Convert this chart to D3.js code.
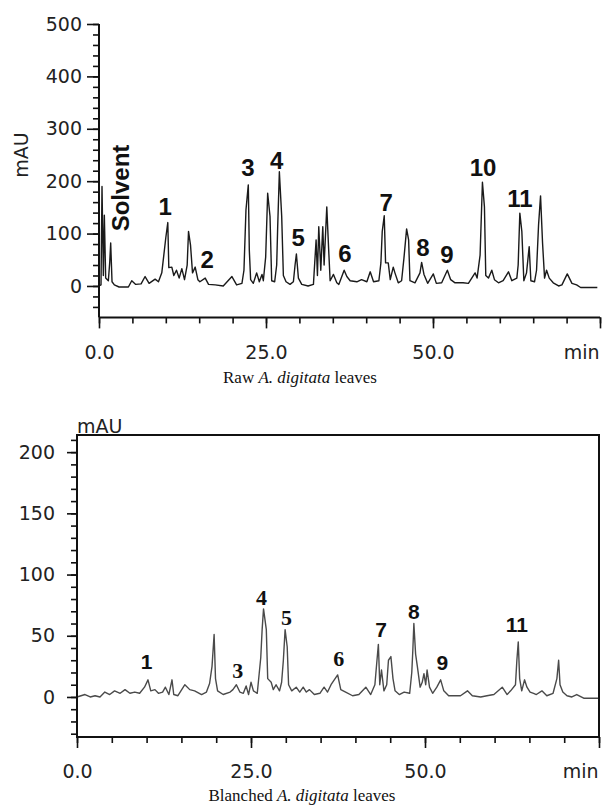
<!DOCTYPE html>
<html>
<head>
<meta charset="utf-8">
<script src="https://cdn.jsdelivr.net/npm/d3@7"></script>
<style>
  body { margin: 0; background: #fff; }
  svg { display: block; }
  .tick text { font-family: "DejaVu Sans", sans-serif; font-size: 19px; fill: #222; }
  .tick line { stroke: #111; stroke-width: 1.6; }
</style>
</head>
<body>
<svg id="chart" width="602" height="809"></svg>
<script>
// raw leaves chromatogram, [time (min), absorbance (mAU)]
var rawTrace = [
  [0.0, 0], [0.3, 2], [0.45, 190], [0.65, 20], [0.8, 135], [1.0, 15], [1.4, 10], [1.6, 44],
  [1.75, 82], [1.95, 8], [2.3, 2], [3.0, -2], [4.4, -2], [4.9, 10], [5.5, 3], [6.3, 4],
  [6.9, 18], [7.5, 5], [8.4, 13], [8.9, 8], [9.4, 25], [10.0, 92], [10.3, 121], [10.45, 35],
  [10.9, 36], [11.2, 20], [11.6, 30], [12.0, 15], [12.4, 33], [12.8, 12], [13.2, 40], [13.4, 104],
  [13.7, 78], [14.0, 25], [14.4, 36], [14.8, 12], [15.1, 8], [15.9, 15], [16.4, 3], [17.4, 2],
  [18.6, 0], [19.9, 18], [20.6, 2], [21.4, 5], [21.7, 30], [22.0, 145], [22.35, 193], [22.5, 69],
  [22.7, 12], [23.1, 5], [23.6, 25], [24.0, 8], [24.4, 22], [24.6, 10], [24.95, 55], [25.25, 177],
  [25.6, 133], [25.85, 10], [26.3, 8], [26.6, 40], [26.75, 113], [27.0, 218], [27.35, 133], [27.6, 20],
  [28.0, 8], [28.6, 3], [29.1, 8], [29.35, 40], [29.55, 61], [29.85, 15], [30.35, 3], [31.3, 0],
  [32.1, 3], [32.5, 88], [32.7, 20], [32.9, 113], [33.2, 30], [33.5, 113], [33.7, 40], [34.1, 151],
  [34.35, 78], [34.6, 10], [35.1, 22], [35.6, 6], [35.9, 3], [36.7, 30], [37.1, 18], [37.6, 10],
  [38.6, 8], [39.3, 12], [40.1, 8], [40.6, 27], [41.1, 8], [41.9, 10], [42.2, 44], [42.4, 104],
  [42.7, 134], [42.9, 44], [43.3, 44], [43.6, 12], [44.05, 36], [44.3, 25], [44.8, 6], [45.3, 10],
  [45.65, 53], [46.05, 109], [46.35, 88], [46.55, 10], [47.3, 6], [48.05, 25], [48.3, 45], [48.65, 22],
  [49.2, 5], [50.05, 23], [50.5, 5], [51.3, 6], [52.15, 30], [52.65, 12], [53.3, 6], [54.5, 6],
  [55.3, 5], [56.3, 25], [56.6, 15], [57.05, 59], [57.4, 198], [57.7, 151], [57.9, 20], [58.3, 15],
  [58.8, 30], [59.2, 12], [59.8, 6], [60.5, 10], [61.3, 27], [61.8, 10], [62.55, 15], [62.75, 40],
  [63.0, 139], [63.3, 104], [63.6, 10], [64.0, 25], [64.4, 75], [64.65, 10], [65.2, 8], [65.5, 30],
  [65.8, 116], [66.1, 172], [66.4, 82], [66.7, 15], [67.0, 30], [67.4, 15], [68.0, 6], [68.8, 0],
  [69.3, 2], [70.1, 23], [70.8, 5], [71.5, 2], [72.1, -3], [74.6, -3]
];

// blanched leaves chromatogram
var blanchedTrace = [
  [0.0, 0], [1.15, 2], [1.9, 0], [2.6, 1], [3.3, 0], [4.0, 4], [4.7, 2], [5.4, 5],
  [6.2, 3], [6.9, 6], [7.6, 3], [8.3, 4], [9.0, 3], [9.7, 8], [10.2, 14], [10.6, 5],
  [11.2, 6], [11.7, 3], [12.3, 4], [12.7, 8], [13.2, 2], [13.65, 14], [13.9, 2], [14.5, 1],
  [15.5, 10], [16.2, 6], [16.9, 5], [17.9, 2], [18.6, 4], [19.05, 11], [19.4, 25], [19.7, 51],
  [19.9, 15], [20.2, 5], [21.0, 2], [22.0, 4], [22.4, 6], [22.9, 10], [23.4, 4], [23.9, 3],
  [24.3, 9], [24.65, 2], [25.0, 12], [25.35, 5], [25.9, 3], [26.4, 32], [26.6, 55], [26.8, 72],
  [27.2, 55], [27.4, 15], [27.9, 12], [28.2, 6], [28.6, 10], [29.1, 5], [29.4, 12], [29.65, 30],
  [29.9, 55], [30.2, 41], [30.4, 10], [30.85, 5], [31.5, 8], [32.0, 4], [32.5, 8], [32.95, 4],
  [33.4, 6], [34.1, 2], [34.9, 3], [35.5, 8], [36.0, 4], [36.5, 10], [37.45, 18], [37.9, 6],
  [38.6, 4], [39.6, 1], [40.5, 2], [41.5, 8], [42.2, 2], [42.8, 10], [43.1, 30], [43.3, 43],
  [43.5, 10], [43.75, 22], [44.1, 5], [44.5, 10], [44.75, 30], [45.1, 33], [45.4, 15], [45.7, 5],
  [46.3, 2], [47.0, 4], [47.8, 3], [48.1, 20], [48.25, 38], [48.4, 60], [48.65, 35], [48.9, 25],
  [49.3, 8], [49.6, 12], [49.85, 19], [50.1, 10], [50.3, 22], [50.65, 8], [51.1, 3], [51.7, 8],
  [52.25, 14], [52.7, 5], [53.4, 1], [55.1, 1], [56.1, 5], [56.8, 1], [58.0, 0], [58.9, 1],
  [59.9, 2], [61.1, 8], [61.8, 2], [62.3, 5], [63.0, 10], [63.2, 30], [63.4, 45], [63.6, 15],
  [63.9, 5], [64.3, 14], [64.65, 8], [65.1, 4], [65.6, 3], [66.0, 2], [66.8, 5], [67.5, 1],
  [68.4, 3], [68.95, 15], [69.2, 30], [69.4, 10], [69.8, 4], [70.4, 1], [71.1, 0], [71.8, 2],
  [72.8, -1], [75.0, -1]
];

// peak labels: text, time of label centre, mAU of label centre
var rawLabels   = ["1", "2", "3", "4", "5", "6", "7", "8", "9", "10", "11"];
var rawLabelT   = [9.9, 16.2, 22.3, 26.6, 29.8, 36.8, 43.0, 48.5, 52.1, 57.5, 63.0];
var rawLabelV   = [152, 51, 227, 240, 92, 63, 160, 74, 61, 227, 168];
var solventT = 3.2, solventV = 187;

var blLabels    = ["1", "3", "4", "5", "6", "7", "8", "9", "11"];
var blLabelT    = [10.0, 23.1, 26.5, 30.1, 37.6, 43.7, 48.4, 52.5, 63.2];
var blLabelV    = [29, 22, 82, 65, 32, 55, 70, 28, 59];

var timeTicks   = [0, 25, 50, 75];
var rawYTicks   = [0, 100, 200, 300, 400, 500];
var blYTicks    = [0, 50, 100, 150, 200];

var svg = d3.select("#chart");
svg.append("rect").attr("width", 602).attr("height", 809).attr("fill", "#fff");

function timeFmt(d) { return d === 75 ? "min" : d3.format(".1f")(d); }

function drawXAxis(g, x, yPos, majLen, minLen) {
  var ax = g.append("g").attr("transform", "translate(0," + yPos + ")");
  ax.append("g").call(d3.axisBottom(x).tickValues(d3.range(0, 76, 5)).tickSize(minLen).tickFormat(""));
  ax.append("g").call(d3.axisBottom(x).tickValues(timeTicks).tickSize(majLen).tickPadding(17).tickFormat(timeFmt));
  ax.selectAll(".domain").remove();
  ax.selectAll(".tick text").filter(function(d) { return d === 75; })
    .attr("text-anchor", "end").attr("dx", -1);
  return ax;
}

function drawYAxis(g, y, xPos, ticks, minorStep, lo, hi, majLen, minLen, pad) {
  var ax = g.append("g").attr("transform", "translate(" + xPos + ",0)");
  ax.append("g").call(d3.axisLeft(y).tickValues(d3.range(lo, hi + 1, minorStep)).tickSize(minLen).tickFormat(""));
  ax.append("g").call(d3.axisLeft(y).tickValues(ticks).tickSize(majLen).tickPadding(pad));
  ax.selectAll(".domain").remove();
  return ax;
}

// ---------- raw leaves ----------
var x1 = d3.scaleLinear().domain([0, 75]).range([99, 600]);
var y1 = d3.scaleLinear().domain([-60, 500]).range([317.4, 24]);
var g1 = svg.append("g");

g1.append("path")
  .datum(rawTrace)
  .attr("fill", "none")
  .attr("stroke", "#1a1a1a")
  .attr("stroke-width", 1.4)
  .attr("stroke-linejoin", "round")
  .attr("d", d3.line().x(function(d) { return x1(d[0]); }).y(function(d) { return y1(d[1]); }));

drawYAxis(g1, y1, x1(0), rawYTicks, 20, -40, 500, 12, 6, 5);
drawXAxis(g1, x1, y1(-60), 11, 6);

g1.append("line").attr("x1", x1(0)).attr("x2", x1(0)).attr("y1", y1(500)).attr("y2", y1(-60))
  .attr("stroke", "#111").attr("stroke-width", 2);
g1.append("line").attr("x1", x1(0)).attr("x2", x1(75)).attr("y1", y1(-60)).attr("y2", y1(-60))
  .attr("stroke", "#111").attr("stroke-width", 2);

g1.append("text")
  .attr("transform", "translate(21," + y1(250) + ") rotate(-90)")
  .attr("text-anchor", "middle").attr("dy", "0.36em")
  .style("font-family", "DejaVu Sans").style("font-size", "19px").attr("fill", "#222")
  .text("mAU");

g1.selectAll(".peak")
  .data(rawLabels)
  .enter().append("text")
    .attr("class", "peak")
    .attr("x", function(d, i) { return x1(rawLabelT[i]); })
    .attr("y", function(d, i) { return y1(rawLabelV[i]); })
    .attr("dy", "0.36em")
    .attr("text-anchor", "middle")
    .style("font-family", "Liberation Sans, Arial, sans-serif")
    .style("font-weight", "bold").style("font-size", "24px")
    .attr("fill", "#111")
    .text(function(d) { return d; });

g1.append("text")
  .attr("transform", "translate(" + x1(solventT) + "," + y1(solventV) + ") rotate(-90)")
  .attr("text-anchor", "middle").attr("dy", "0.36em")
  .style("font-family", "Liberation Sans, Arial, sans-serif")
  .style("font-weight", "bold").style("font-size", "24px").attr("fill", "#111")
  .text("Solvent");

var cap1 = g1.append("text").attr("x", 300).attr("y", 383).attr("text-anchor", "middle")
  .style("font-family", "Liberation Serif, serif").style("font-size", "17px").attr("fill", "#111");
cap1.append("tspan").text("Raw ");
cap1.append("tspan").style("font-style", "italic").text("A. digitata");
cap1.append("tspan").text(" leaves");

// ---------- blanched leaves ----------
var x2 = d3.scaleLinear().domain([0, 75]).range([77, 599]);
var y2 = d3.scaleLinear().domain([-32.7, 214]).range([737, 435]);
var g2 = svg.append("g");

g2.append("path")
  .datum(blanchedTrace)
  .attr("fill", "none")
  .attr("stroke", "#4a4a4a")
  .attr("stroke-width", 1.4)
  .attr("stroke-linejoin", "round")
  .attr("d", d3.line().x(function(d) { return x2(d[0]); }).y(function(d) { return y2(d[1]); }));

drawYAxis(g2, y2, x2(0), blYTicks, 10, -30, 210, 10, 6, 12);
drawXAxis(g2, x2, y2(-32.7), 11, 6);

g2.append("rect")
  .attr("x", x2(0)).attr("y", y2(214))
  .attr("width", x2(75) - x2(0)).attr("height", y2(-32.7) - y2(214))
  .attr("fill", "none").attr("stroke", "#111").attr("stroke-width", 2);

g2.append("text")
  .attr("x", x2(0)).attr("y", y2(214) - 2)
  .style("font-family", "DejaVu Sans").style("font-size", "19px").attr("fill", "#222")
  .text("mAU");

var serifPeaks = ["3", "4", "5", "6"];
g2.selectAll(".peak")
  .data(blLabels)
  .enter().append("text")
    .attr("class", "peak")
    .attr("x", function(d, i) { return x2(blLabelT[i]); })
    .attr("y", function(d, i) { return y2(blLabelV[i]); })
    .attr("dy", "0.36em")
    .attr("text-anchor", "middle")
    .style("font-family", function(d) { return serifPeaks.indexOf(d) >= 0 ? "Liberation Serif, serif" : "Liberation Sans, Arial, sans-serif"; })
    .style("font-weight", "bold")
    .style("font-size", function(d) { return serifPeaks.indexOf(d) >= 0 ? "22px" : "21px"; })
    .attr("fill", "#111")
    .text(function(d) { return d; });

var cap2 = g2.append("text").attr("x", 302).attr("y", 801).attr("text-anchor", "middle")
  .style("font-family", "Liberation Serif, serif").style("font-size", "17px").attr("fill", "#111");
cap2.append("tspan").text("Blanched ");
cap2.append("tspan").style("font-style", "italic").text("A. digitata");
cap2.append("tspan").text(" leaves");
</script>
</body>
</html>
